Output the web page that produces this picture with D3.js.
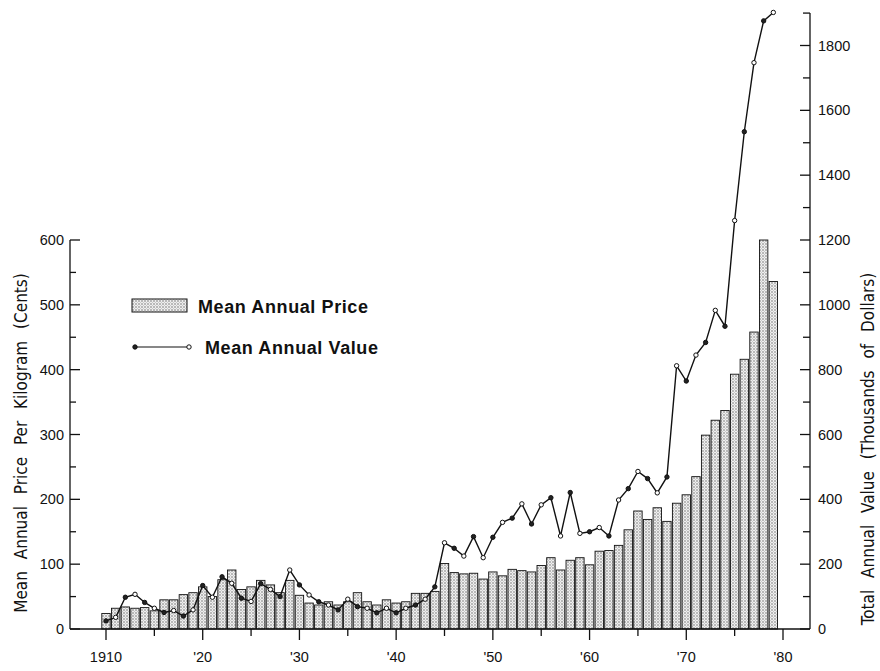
<!DOCTYPE html>
<html>
<head>
<meta charset="utf-8">
<script src="https://cdn.jsdelivr.net/npm/d3@7"></script>
<style>
  html, body { margin: 0; padding: 0; background: #fff; }
  svg { display: block; }
  .tick-label { font-family: "Liberation Sans", "DejaVu Sans", sans-serif; font-size: 14.5px; fill: #111; }
  .title { font-family: "Liberation Sans Narrow", "DejaVu Sans Condensed", "Liberation Sans", sans-serif; font-size: 17px; fill: #111; word-spacing: 7px; }
  .legend { font-family: "Liberation Sans", Arial, sans-serif; font-weight: bold; font-size: 18px; letter-spacing: 0.6px; fill: #111; }
</style>
</head>
<body>
<svg id="chart" width="880" height="671"></svg>
<script>
// ---------- data ----------
const years = d3.range(1910, 1980);
const priceCents = [
  24, 32, 34, 32, 33, 28, 45, 45, 53, 56,      // 1910-1919
  65, 50, 76, 91, 61, 65, 75, 68, 56, 75,      // 1920-1929
  52, 40, 37, 42, 37, 42, 56, 42, 37, 45,      // 1930-1939
  40, 42, 55, 55, 58, 101, 87, 85, 86, 77,     // 1940-1949
  88, 82, 92, 90, 88, 98, 110, 91, 106, 110,   // 1950-1959
  99, 120, 121, 129, 153, 182, 169, 187, 166, 194, // 1960-1969
  207, 235, 299, 322, 337, 393, 416, 458, 600, 536 // 1970-1979
];
const valueThousands = [
  25, 36, 98, 107, 82, 64, 51, 57, 40, 59,          // 1910-1919
  134, 98, 161, 141, 95, 85, 140, 122, 100, 182,    // 1920-1929
  136, 105, 84, 74, 59, 92, 69, 64, 50, 64,         // 1930-1939
  50, 64, 74, 92, 130, 266, 249, 225, 285, 220,     // 1940-1949
  283, 329, 342, 386, 324, 383, 405, 287, 421, 295, // 1950-1959
  300, 313, 287, 398, 433, 486, 464, 420, 469, 812, // 1960-1969
  765, 845, 884, 983, 934, 1260, 1534, 1747, 1876, 1902 // 1970-1979
];
const xTickYears = [1910, 1920, 1930, 1940, 1950, 1960, 1970, 1980];
const xTickLabels = ["1910", "'20", "'30", "'40", "'50", "'60", "'70", "'80"];
const leftTicks = [0, 100, 200, 300, 400, 500, 600];
const rightTicks = [0, 200, 400, 600, 800, 1000, 1200, 1400, 1600, 1800];
const leftTitle = "Mean  Annual  Price  Per  Kilogram  (Cents)";
const rightTitle = "Total  Annual  Value  (Thousands  of  Dollars)";
const legendLabels = ["Mean Annual Price", "Mean Annual Value"];

// ---------- layout ----------
const svg = d3.select("#chart");
const x = d3.scaleLinear().domain([1910, 1980]).range([106, 783]);
const yL = d3.scaleLinear().domain([0, 600]).range([629, 240]);
const yR = d3.scaleLinear().domain([0, 1200]).range([629, 240]);
const axisLeftX = 70, axisRightX = 810, baseY = yL(0);

// stipple pattern
const defs = svg.append("defs");
const pat = defs.append("pattern").attr("id", "stipple")
  .attr("patternUnits", "userSpaceOnUse").attr("width", 3).attr("height", 3);
pat.append("rect").attr("width", 3).attr("height", 3).attr("fill", "#eeeeee");
pat.append("circle").attr("cx", 1).attr("cy", 1).attr("r", 0.75).attr("fill", "#6a6a6a");
pat.append("circle").attr("cx", 2.5).attr("cy", 2.5).attr("r", 0.4).attr("fill", "#9a9a9a");

// bars
const barW = 8.4;
svg.append("g").selectAll("rect").data(years).join("rect")
  .attr("x", (d) => x(d) - barW / 2)
  .attr("y", (d, i) => yL(priceCents[i]))
  .attr("width", barW)
  .attr("height", (d, i) => baseY - yL(priceCents[i]))
  .attr("fill", "url(#stipple)")
  .attr("stroke", "#111")
  .attr("stroke-width", 0.9);

// line
const line = d3.line().x((d) => x(d)).y((d, i) => yR(valueThousands[i]));
svg.append("path").datum(years).attr("d", line)
  .attr("fill", "none").attr("stroke", "#111").attr("stroke-width", 1.4);
svg.append("g").selectAll("circle").data(years).join("circle")
  .attr("cx", (d) => x(d)).attr("cy", (d, i) => yR(valueThousands[i]))
  .attr("r", 2.2).attr("fill", (d, i) => i % 2 ? "#fff" : "#222")
  .attr("stroke", "#111").attr("stroke-width", 1);

// axes
const axG = svg.append("g").attr("stroke", "#111").attr("stroke-width", 1.3).attr("fill", "none");
axG.append("line").attr("x1", axisLeftX).attr("x2", axisRightX).attr("y1", baseY).attr("y2", baseY);
axG.append("line").attr("x1", axisLeftX).attr("x2", axisLeftX).attr("y1", baseY).attr("y2", yL(600));
axG.append("line").attr("x1", axisRightX).attr("x2", axisRightX).attr("y1", baseY).attr("y2", yR(1900));

// left ticks (inward), major every 100, minor every 50
d3.range(0, 601, 50).forEach((v) => {
  const major = v % 100 === 0;
  axG.append("line").attr("x1", axisLeftX).attr("x2", axisLeftX + (major ? 10 : 6))
    .attr("y1", yL(v)).attr("y2", yL(v));
});
// right ticks (inward), major every 200, minor every 100
d3.range(0, 1901, 100).forEach((v) => {
  const major = v % 200 === 0;
  axG.append("line").attr("x1", axisRightX).attr("x2", axisRightX - (major ? 10 : 7))
    .attr("y1", yR(v)).attr("y2", yR(v));
});
// bottom ticks, major every decade, minor every 5 years
d3.range(1910, 1981, 5).forEach((v) => {
  const major = v % 10 === 0;
  axG.append("line").attr("x1", x(v)).attr("x2", x(v))
    .attr("y1", baseY).attr("y2", baseY + (major ? 11 : 7));
});

// tick labels
svg.append("g").selectAll("text").data(leftTicks).join("text")
  .attr("class", "tick-label").attr("x", axisLeftX - 6).attr("y", (d) => yL(d) + 5)
  .attr("text-anchor", "end").text((d) => d);
svg.append("g").selectAll("text").data(rightTicks).join("text")
  .attr("class", "tick-label").attr("x", axisRightX + 8).attr("y", (d) => yR(d) + 5)
  .attr("text-anchor", "start").text((d) => d);
svg.append("g").selectAll("text").data(xTickYears).join("text")
  .attr("class", "tick-label").attr("x", (d) => x(d)).attr("y", baseY + 33)
  .attr("text-anchor", "middle").text((d, i) => xTickLabels[i]);

// axis titles
svg.append("text").attr("class", "title")
  .attr("transform", "translate(27,443) rotate(-90)")
  .attr("text-anchor", "middle").text(leftTitle);
svg.append("text").attr("class", "title")
  .attr("transform", "translate(874,449) rotate(-90)")
  .attr("text-anchor", "middle").text(rightTitle);

// legend
svg.append("rect").attr("x", 132).attr("y", 299).attr("width", 55).attr("height", 13)
  .attr("fill", "url(#stipple)").attr("stroke", "#111").attr("stroke-width", 1);
svg.append("text").attr("class", "legend").attr("x", 198).attr("y", 313).text(legendLabels[0]);
svg.append("line").attr("x1", 135).attr("x2", 189).attr("y1", 347).attr("y2", 347)
  .attr("stroke", "#111").attr("stroke-width", 1.2);
svg.append("circle").attr("cx", 135).attr("cy", 347).attr("r", 2.2).attr("fill", "#222").attr("stroke", "#111");
svg.append("circle").attr("cx", 189).attr("cy", 347).attr("r", 2.2).attr("fill", "#fff").attr("stroke", "#111");
svg.append("text").attr("class", "legend").attr("x", 205).attr("y", 354).text(legendLabels[1]);
</script>
</body>
</html>
